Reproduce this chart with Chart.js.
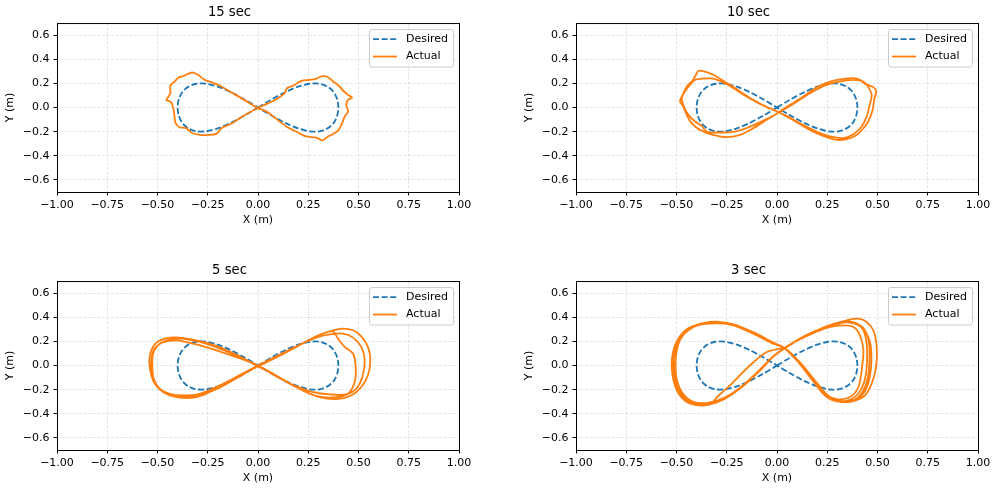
<!DOCTYPE html>
<html>
<head>
<meta charset="utf-8">
<script src="https://cdn.jsdelivr.net/npm/chart.js@4/dist/chart.umd.min.js"></script>
<style>
  body { margin: 0; width: 996px; height: 490px; overflow: hidden; position: relative; background: #fff; }
  canvas { position: absolute; }
</style>
</head>
<body>
<canvas id="c15" width="480" height="240" style="left:0px;top:0px"></canvas>
<canvas id="c10" width="480" height="240" style="left:519px;top:0px"></canvas>
<canvas id="c5" width="480" height="240" style="left:0px;top:258px"></canvas>
<canvas id="c3" width="480" height="240" style="left:519px;top:258px"></canvas>
<script>
// ticks
const xTicks = [-1, -0.75, -0.5, -0.25, 0, 0.25, 0.5, 0.75, 1];
const xTickLabels = ['\u22121.00', '\u22120.75', '\u22120.50', '\u22120.25', '0.00', '0.25', '0.50', '0.75', '1.00'];
const yTicks = [-0.6, -0.4, -0.2, 0, 0.2, 0.4, 0.6];
const yTickLabels = ['\u22120.6', '\u22120.4', '\u22120.2', '0.0', '0.2', '0.4', '0.6'];

// desired figure eight (same for every run)
const desiredX = [0, 0.069, 0.137, 0.2, 0.257, 0.306, 0.346, 0.376, 0.394, 0.4, 0.394, 0.376, 0.346, 0.306, 0.257, 0.2, 0.137, 0.069, 0,
  -0.069, -0.137, -0.2, -0.257, -0.306, -0.346, -0.376, -0.394, -0.4, -0.394, -0.376, -0.346, -0.306, -0.257, -0.2, -0.137, -0.069, 0];
const desiredY = [0, 0.068, 0.129, 0.173, 0.197, 0.197, 0.173, 0.129, 0.068, 0, -0.068, -0.129, -0.173, -0.197, -0.197, -0.173, -0.129, -0.068, 0,
  0.068, 0.129, 0.173, 0.197, 0.197, 0.173, 0.129, 0.068, 0, -0.068, -0.129, -0.173, -0.197, -0.197, -0.173, -0.129, -0.068, 0];

// actual paths
const actual15 = [[0,0],[0.041,0.028],[0.091,0.069],[0.133,0.119],[0.144,0.160],[0.174,0.180],[0.216,0.221],[0.257,0.229],[0.290,0.240],
  [0.320,0.260],[0.348,0.251],[0.373,0.218],[0.406,0.174],[0.423,0.141],[0.448,0.105],[0.468,0.083],[0.448,0.064],[0.439,0.022],
  [0.448,-0.033],[0.431,-0.075],[0.415,-0.144],[0.398,-0.191],[0.365,-0.227],[0.348,-0.240],[0.320,-0.273],[0.290,-0.249],[0.240,-0.240],
  [0.199,-0.207],[0.141,-0.157],[0.091,-0.094],[0.050,-0.041],[0.025,-0.019],[0,-0.006],
  [-0.041,0.036],[-0.091,0.086],[-0.141,0.133],[-0.191,0.182],[-0.232,0.210],[-0.265,0.229],[-0.299,0.271],[-0.323,0.290],[-0.348,0.279],
  [-0.376,0.257],[-0.393,0.251],[-0.415,0.215],[-0.436,0.180],[-0.436,0.119],[-0.451,0.077],[-0.456,0.064],[-0.431,0.041],[-0.420,-0.019],
  [-0.415,-0.075],[-0.410,-0.130],[-0.390,-0.163],[-0.357,-0.171],[-0.332,-0.207],[-0.290,-0.227],[-0.249,-0.227],[-0.207,-0.218],
  [-0.182,-0.171],[-0.133,-0.135],[-0.091,-0.088],[-0.041,-0.039],[0,-0.006]];

const actual10 = [[0,-0.047],[0.065,0.022],[0.131,0.091],[0.197,0.168],[0.264,0.215],[0.330,0.238],[0.380,0.243],[0.413,0.229],[0.438,0.196],
  [0.479,0.169],[0.493,0.133],[0.483,0.064],[0.476,-0.019],[0.454,-0.116],[0.430,-0.171],[0.396,-0.227],[0.347,-0.262],[0.297,-0.268],
  [0.247,-0.246],[0.197,-0.213],[0.148,-0.171],[0.098,-0.122],[0.048,-0.075],[0,-0.033],[-0.051,0.003],[-0.118,0.064],[-0.184,0.133],
  [-0.234,0.188],[-0.275,0.229],[-0.317,0.271],[-0.358,0.298],[-0.391,0.304],[-0.403,0.271],[-0.420,0.224],[-0.449,0.174],[-0.469,0.105],
  [-0.483,0.050],[-0.466,0.008],[-0.449,-0.061],[-0.425,-0.130],[-0.383,-0.185],[-0.317,-0.227],[-0.250,-0.246],[-0.184,-0.227],
  [-0.118,-0.171],[-0.051,-0.102],[0,-0.050],
  [0.081,0.030],[0.164,0.119],[0.247,0.188],[0.330,0.221],[0.388,0.229],[0.430,0.215],[0.454,0.169],[0.471,0.105],[0.459,0.008],
  [0.446,-0.075],[0.421,-0.157],[0.380,-0.221],[0.330,-0.254],[0.264,-0.240],[0.197,-0.199],[0.114,-0.130],[0.048,-0.069],[-0.018,-0.019],
  [-0.085,0.030],[-0.151,0.091],[-0.217,0.160],[-0.267,0.207],[-0.317,0.240],[-0.367,0.240],[-0.408,0.229],[-0.433,0.188],[-0.458,0.133],
  [-0.474,0.077],[-0.463,0.008],[-0.441,-0.061],[-0.408,-0.116],[-0.375,-0.152],[-0.350,-0.199],[-0.284,-0.207],[-0.217,-0.202],
  [-0.151,-0.171],[-0.068,-0.108],[0,-0.052]];

const actual5 = [[0,0],[0.091,0.071],[0.174,0.140],[0.257,0.215],[0.323,0.264],[0.373,0.283],[0.398,0.223],[0.431,0.154],[0.473,0.098],
  [0.486,-0.012],[0.481,-0.137],[0.448,-0.234],[0.390,-0.262],[0.323,-0.262],[0.257,-0.234],[0.174,-0.164],[0.091,-0.082],[0,0],
  [-0.091,0.071],[-0.191,0.140],[-0.290,0.195],[-0.390,0.223],[-0.456,0.209],[-0.498,0.167],[-0.522,0.098],[-0.526,0],[-0.519,-0.110],
  [-0.489,-0.192],[-0.439,-0.234],[-0.373,-0.248],[-0.290,-0.234],[-0.207,-0.179],[-0.108,-0.096],[0,-0.007],
  [0.091,0.066],[0.191,0.154],[0.290,0.242],[0.373,0.292],[0.423,0.306],[0.473,0.292],[0.514,0.242],[0.547,0.154],[0.559,0.043],
  [0.547,-0.081],[0.514,-0.178],[0.464,-0.248],[0.390,-0.278],[0.307,-0.262],[0.224,-0.207],[0.141,-0.137],[0.058,-0.054],[0,-0.007],
  [-0.091,0.076],[-0.191,0.153],[-0.290,0.203],[-0.390,0.231],[-0.464,0.223],[-0.514,0.175],[-0.539,0.071],[-0.536,-0.040],[-0.514,-0.150],
  [-0.464,-0.228],[-0.390,-0.266],[-0.307,-0.261],[-0.224,-0.206],[-0.124,-0.109],[0,0],
  [0.091,0.076],[0.191,0.159],[0.290,0.231],[0.357,0.258],[0.423,0.264],[0.473,0.231],[0.514,0.154],[0.531,0.043],[0.519,-0.095],
  [0.489,-0.192],[0.439,-0.239],[0.357,-0.239],[0.274,-0.220],[0.191,-0.173],[0.091,-0.091],[0,0],
  [-0.100,0.065],[-0.207,0.126],[-0.307,0.175],[-0.406,0.209],[-0.481,0.187],[-0.519,0.126],[-0.531,0.015],[-0.522,-0.095],[-0.498,-0.178],
  [-0.439,-0.248],[-0.357,-0.262],[-0.274,-0.239],[-0.191,-0.184],[-0.091,-0.090],[0,0]];

const actual3 = [[0.040,0.145],[0.114,0.222],[0.197,0.283],[0.280,0.333],[0.347,0.362],[0.396,0.350],[0.430,0.292],[0.446,0.181],[0.448,0.043],
  [0.440,-0.095],[0.415,-0.206],[0.371,-0.278],[0.313,-0.292],[0.247,-0.240],[0.181,-0.112],[0.114,0.026],[0.040,0.140],[-0.035,0.195],
  [-0.118,0.264],[-0.217,0.333],[-0.300,0.356],[-0.370,0.345],[-0.430,0.305],[-0.478,0.230],[-0.506,0.126],[-0.516,0.002],[-0.506,-0.122],
  [-0.476,-0.235],[-0.425,-0.305],[-0.350,-0.318],[-0.250,-0.265],[-0.167,-0.168],[-0.085,-0.042],[-0.018,0.074],[0.040,0.145],
  [0.120,0.230],[0.200,0.292],[0.280,0.345],[0.347,0.375],[0.405,0.388],[0.446,0.361],[0.479,0.292],[0.496,0.154],[0.493,-0.012],
  [0.471,-0.150],[0.438,-0.247],[0.380,-0.294],[0.305,-0.300],[0.240,-0.250],[0.175,-0.120],[0.110,0.020],[0.045,0.135],[-0.030,0.200],
  [-0.110,0.270],[-0.210,0.340],[-0.290,0.362],[-0.365,0.352],[-0.440,0.310],[-0.490,0.225],[-0.516,0.120],[-0.524,0.000],[-0.514,-0.130],
  [-0.485,-0.245],[-0.435,-0.315],[-0.360,-0.330],[-0.270,-0.285],[-0.180,-0.180],[-0.095,-0.050],[-0.020,0.072],[0.040,0.150],
  [0.110,0.215],[0.190,0.275],[0.260,0.318],[0.330,0.333],[0.380,0.320],[0.413,0.250],[0.430,0.126],[0.421,-0.040],[0.405,-0.178],
  [0.363,-0.261],[0.297,-0.278],[0.235,-0.230],[0.170,-0.105],[0.105,0.030],[0.035,0.145],[-0.040,0.200],[-0.125,0.270],[-0.225,0.340],
  [-0.310,0.350],[-0.390,0.335],[-0.455,0.285],[-0.495,0.200],[-0.512,0.100],[-0.512,-0.030],[-0.498,-0.150],[-0.462,-0.255],[-0.400,-0.315],
  [-0.330,-0.322],[-0.300,-0.265],[-0.217,-0.137],[-0.143,-0.012],[-0.051,0.112],[0.040,0.150],
  [0.118,0.225],[0.200,0.288],[0.285,0.340],[0.350,0.360],[0.400,0.345],[0.438,0.290],[0.458,0.180],[0.460,0.040],[0.452,-0.100],
  [0.428,-0.210],[0.385,-0.285],[0.320,-0.300],[0.250,-0.245],[0.185,-0.118],[0.118,0.020],[0.042,0.142],[-0.032,0.198],[-0.115,0.268],
  [-0.215,0.338],[-0.300,0.360],[-0.380,0.348],[-0.445,0.300],[-0.485,0.215],[-0.508,0.110],[-0.518,-0.010],[-0.510,-0.125],[-0.482,-0.240],
  [-0.430,-0.310],[-0.355,-0.325],[-0.258,-0.272],[-0.172,-0.172],[-0.090,-0.045],[-0.020,0.075],[0.040,0.145],
  [0.115,0.220],[0.195,0.285],[0.275,0.335],[0.340,0.358],[0.392,0.345],[0.430,0.300],[0.462,0.200],[0.470,0.060],[0.462,-0.090],
  [0.440,-0.205],[0.395,-0.285],[0.330,-0.300],[0.255,-0.250],[0.188,-0.122],[0.120,0.015],[0.045,0.138],[-0.030,0.190],[-0.112,0.260],
  [-0.212,0.330],[-0.295,0.352],[-0.375,0.340],[-0.440,0.296],[-0.482,0.212],[-0.500,0.110],[-0.505,0.000],[-0.498,-0.120],[-0.470,-0.228],
  [-0.420,-0.298],[-0.345,-0.310],[-0.255,-0.262],[-0.170,-0.165],[-0.088,-0.040],[-0.018,0.078],[0.040,0.145]];

const FONT = 'DejaVu Sans';
Chart.defaults.font.family = FONT;
Chart.defaults.font.size = 11;
Chart.defaults.color = '#000';

// black frame round the plot + matplotlib style legend
const frameLegend = {
  id: 'frameLegend',
  afterDraw(chart) {
    const {ctx, chartArea: a} = chart;
    ctx.save();
    ctx.strokeStyle = '#000';
    ctx.lineWidth = 1;
    ctx.strokeRect(a.left + 0.5, a.top + 0.5, a.right - a.left, a.bottom - a.top);

    const x0 = a.right - 90, y0 = a.top + 6, w = 84, h = 37.5, r = 2.5;
    ctx.beginPath();
    ctx.roundRect(x0 + 0.5, y0 + 0.5, w, h, r);
    ctx.fillStyle = 'rgba(255,255,255,0.8)';
    ctx.fill();
    ctx.strokeStyle = '#cccccc';
    ctx.stroke();

    const entries = [chart.data.datasets[1], chart.data.datasets[0]];
    entries.forEach((ds, i) => {
      const y = y0 + 10 + i * 17.5;
      ctx.beginPath();
      ctx.setLineDash(ds.borderDash || []);
      ctx.strokeStyle = ds.borderColor;
      ctx.lineWidth = ds.borderWidth;
      ctx.moveTo(x0 + 4, y);
      ctx.lineTo(x0 + 28, y);
      ctx.stroke();
      ctx.setLineDash([]);
      ctx.fillStyle = '#000';
      ctx.font = '11px "' + FONT + '"';
      ctx.textBaseline = 'middle';
      ctx.textAlign = 'left';
      ctx.fillText(ds.label, x0 + 37, y);
    });
    ctx.restore();
  }
};

function makeChart(id, title, actual) {
  const gridStyle = { color: '#dddddd', lineWidth: 0.8, tickLength: 3.5, tickColor: '#000', tickWidth: 1 };
  return new Chart(document.getElementById(id), {
    type: 'scatter',
    data: {
      datasets: [
        {
          label: 'Actual',
          data: actual.map(p => ({x: p[0], y: p[1]})),
          showLine: true,
          borderColor: '#ff7f0e',
          borderWidth: 1.8,
          pointRadius: 0,
          tension: 0.3,
          order: 0
        },
        {
          label: 'Desired',
          data: desiredX.map((x, i) => ({x: x, y: desiredY[i]})),
          showLine: true,
          borderColor: '#1f77b4',
          borderWidth: 1.8,
          borderDash: [6, 2.6],
          pointRadius: 0,
          tension: 0.3,
          order: 1
        }
      ]
    },
    options: {
      responsive: false,
      animation: false,
      layout: { padding: { left: 0, right: 21, top: 0, bottom: 0 } },
      plugins: {
        legend: { display: false },
        tooltip: { enabled: false },
        title: {
          display: true,
          text: title,
          color: '#000',
          font: { size: 13.2, weight: 'normal', lineHeight: 1.2 },
          padding: { top: 4.4, bottom: 2.8 }
        }
      },
      scales: {
        x: {
          type: 'linear',
          min: -1,
          max: 1,
          grid: gridStyle,
          border: { display: false, dash: [3, 1.5] },
          afterBuildTicks: s => { s.ticks = xTicks.map(v => ({value: v})); },
          afterFit: s => { s.height = 48; },
          ticks: { autoSkip: false, maxRotation: 0, padding: 3, color: '#000', callback: (v, i) => xTickLabels[i] },
          title: { display: true, text: 'X (m)', color: '#000', padding: { top: 0, bottom: 12.9 } }
        },
        y: {
          type: 'linear',
          min: -0.7,
          max: 0.7,
          grid: gridStyle,
          border: { display: false, dash: [3, 1.5] },
          afterBuildTicks: s => { s.ticks = yTicks.map(v => ({value: v})); },
          afterFit: s => { s.width = 57; },
          ticks: { padding: 4, color: '#000', callback: (v, i) => yTickLabels[i] },
          title: { display: true, text: 'Y (m)', color: '#000', padding: { top: 3.9, bottom: 0 } }
        }
      }
    },
    plugins: [frameLegend]
  });
}

makeChart('c15', '15 sec', actual15);
makeChart('c10', '10 sec', actual10);
makeChart('c5', '5 sec', actual5);
makeChart('c3', '3 sec', actual3);
</script>
</body>
</html>
